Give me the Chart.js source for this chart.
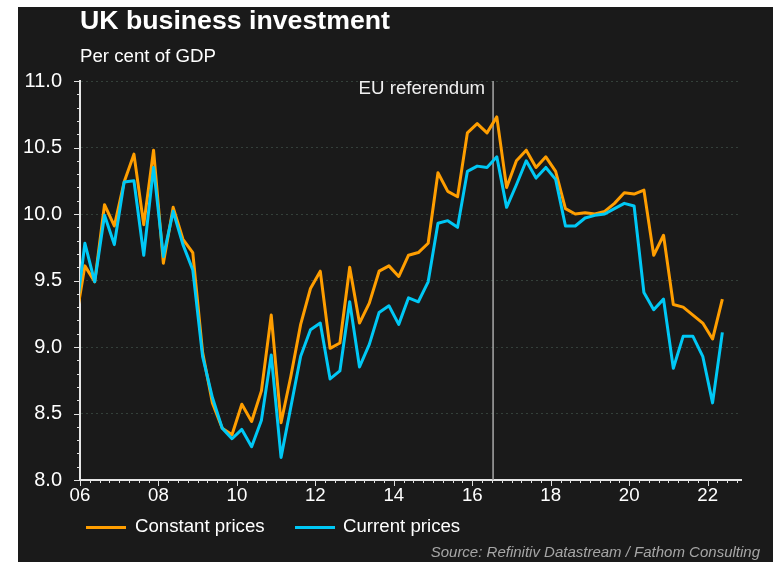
<!DOCTYPE html>
<html>
<head>
<meta charset="utf-8">
<script src="https://cdn.jsdelivr.net/npm/chart.js@4.4.1/dist/chart.umd.min.js"></script>
<style>
  body { margin: 0; background: #fff; width: 784px; height: 562px; overflow: hidden; position: relative;
         font-family: "Liberation Sans", Arial, sans-serif; }
  #panel { position: absolute; left: 18px; top: 7px; width: 755px; height: 555px; background: #1a1a1a; }
  #chart { position: absolute; left: 0; top: 0; }
  .txt { position: absolute; color: #fff; white-space: nowrap; }
  #title { left: 80px; top: 7px; font-size: 26.7px; line-height: 26.7px; font-weight: bold; }
  #subtitle { left: 80px; top: 47px; font-size: 18.67px; line-height: 18.67px; }
  .leg { top: 517px; font-size: 18.67px; line-height: 18.67px; }
  .swatch { position: absolute; top: 526px; width: 40px; height: 3px; }
  #source { right: 24px; top: 544px; font-size: 15px; line-height: 15px; font-style: italic; color: #a6a6a6; }
</style>
</head>
<body>
<div id="panel"></div>
<canvas id="chart" width="784" height="562"></canvas>
<div class="txt" id="title">UK business investment</div>
<div class="txt" id="subtitle">Per cent of GDP</div>
<div class="swatch" style="left:86px;background:#ff9e00"></div>
<div class="txt leg" style="left:135px">Constant prices</div>
<div class="swatch" style="left:295px;background:#00c8f5"></div>
<div class="txt leg" style="left:343px">Current prices</div>
<div class="txt" id="source">Source: Refinitiv Datastream / Fathom Consulting</div>

<script>
// Quarterly observations (first one sits just left of the axis and gets clipped)
const quarters = [
  "2005Q4",
  "2006Q1","2006Q2","2006Q3","2006Q4","2007Q1","2007Q2","2007Q3","2007Q4",
  "2008Q1","2008Q2","2008Q3","2008Q4","2009Q1","2009Q2","2009Q3","2009Q4",
  "2010Q1","2010Q2","2010Q3","2010Q4","2011Q1","2011Q2","2011Q3","2011Q4",
  "2012Q1","2012Q2","2012Q3","2012Q4","2013Q1","2013Q2","2013Q3","2013Q4",
  "2014Q1","2014Q2","2014Q3","2014Q4","2015Q1","2015Q2","2015Q3","2015Q4",
  "2016Q1","2016Q2","2016Q3","2016Q4","2017Q1","2017Q2","2017Q3","2017Q4",
  "2018Q1","2018Q2","2018Q3","2018Q4","2019Q1","2019Q2","2019Q3","2019Q4",
  "2020Q1","2020Q2","2020Q3","2020Q4","2021Q1","2021Q2","2021Q3","2021Q4",
  "2022Q1","2022Q2"
];

const constantPrices = [
  9.17,
  9.61, 9.49, 10.07, 9.91, 10.24, 10.45, 9.92, 10.48,
  9.63, 10.05, 9.81, 9.71, 8.96, 8.58, 8.39, 8.34,
  8.57, 8.44, 8.67, 9.24, 8.43, 8.78, 9.17, 9.44,
  9.57, 8.99, 9.03, 9.60, 9.18, 9.33, 9.57, 9.61,
  9.53, 9.69, 9.71, 9.78, 10.31, 10.17, 10.13, 10.61,
  10.68, 10.61, 10.73, 10.20, 10.40, 10.48, 10.35, 10.43,
  10.32, 10.04, 10.00, 10.01, 10.00, 10.02, 10.08, 10.16,
  10.15, 10.18, 9.69, 9.84, 9.32, 9.30, 9.24, 9.18,
  9.06, 9.36
];

const currentPrices = [
  9.19,
  9.78, 9.49, 9.99, 9.77, 10.24, 10.25, 9.69, 10.35,
  9.68, 10.02, 9.77, 9.58, 8.93, 8.62, 8.39, 8.31,
  8.38, 8.25, 8.45, 8.94, 8.17, 8.55, 8.93, 9.13,
  9.18, 8.76, 8.82, 9.34, 8.85, 9.02, 9.26, 9.31,
  9.17, 9.37, 9.34, 9.49, 9.93, 9.95, 9.90, 10.32,
  10.36, 10.35, 10.43, 10.05, 10.22, 10.40, 10.27, 10.35,
  10.26, 9.91, 9.91, 9.97, 9.99, 10.00, 10.04, 10.08,
  10.06, 9.41, 9.28, 9.36, 8.84, 9.08, 9.08, 8.93,
  8.58, 9.11
];

const yTicks = [8.0, 8.5, 9.0, 9.5, 10.0, 10.5, 11.0];
const xLabelYears = [2006, 2008, 2010, 2012, 2014, 2016, 2018, 2020, 2022];
const referendumDate = 2016.53;

const FONT = '"Liberation Sans", Arial, sans-serif';

// quarter label -> decimal year (mid-quarter)
function quarterToYear(q) {
  const yr = parseInt(q.slice(0, 4));
  const qn = parseInt(q.slice(5));
  return yr + (qn - 0.5) / 4;
}

function toPoints(values) {
  return values.map(function(v, i) {
    return {x: quarterToYear(quarters[i]), y: v};
  });
}

const decor = {
  id: 'decor',
  beforeDatasetsDraw(chart) {
    const {ctx, chartArea: a, scales: {x}} = chart;
    const rx = x.getPixelForValue(referendumDate);
    ctx.save();
    ctx.strokeStyle = '#a8a8a8';
    ctx.lineWidth = 1.5;
    ctx.beginPath();
    ctx.moveTo(rx, a.top);
    ctx.lineTo(rx, a.bottom);
    ctx.stroke();
    ctx.fillStyle = '#f0f0f0';
    ctx.font = '18.67px ' + FONT;
    ctx.textAlign = 'right';
    ctx.textBaseline = 'middle';
    ctx.fillText('EU referendum', rx - 8, a.top + 8);
    ctx.restore();
  },
  afterDraw(chart) {
    const {ctx, chartArea: a, scales: {x, y}} = chart;
    ctx.save();
    ctx.strokeStyle = '#e0e0e0';
    ctx.lineWidth = 1;
    ctx.beginPath();
    // quarterly ticks on the time axis
    for (let i = 0; i * 0.25 <= x.max - 2006; i++) {
      const px = Math.round(x.getPixelForValue(2006 + i * 0.25)) + 0.5;
      let len = 3;
      if (i % 8 === 0) len = 6;
      ctx.moveTo(px, a.bottom);
      ctx.lineTo(px, a.bottom + len);
    }
    // 0.1 ticks on the value axis
    for (let i = 0; i <= 30; i++) {
      const py = Math.round(y.getPixelForValue(8 + i / 10)) + 0.5;
      const len = (i % 5 === 0) ? 6 : 3;
      ctx.moveTo(a.left, py);
      ctx.lineTo(a.left - len, py);
    }
    ctx.stroke();
    ctx.restore();
  }
};

new Chart(document.getElementById('chart'), {
  type: 'line',
  data: {
    datasets: [
      {
        label: 'Constant prices',
        data: toPoints(constantPrices),
        borderColor: '#ff9e00',
        borderWidth: 3,
        borderJoinStyle: 'round',
        pointRadius: 0,
        tension: 0,
        order: 1
      },
      {
        label: 'Current prices',
        data: toPoints(currentPrices),
        borderColor: '#00c8f5',
        borderWidth: 3,
        borderJoinStyle: 'round',
        pointRadius: 0,
        tension: 0,
        order: 0
      }
    ]
  },
  options: {
    responsive: false,
    animation: false,
    devicePixelRatio: 1,
    layout: { padding: { left: 0, top: 81, right: 43, bottom: 0 } },
    plugins: { legend: { display: false }, tooltip: { enabled: false } },
    scales: {
      x: {
        type: 'linear',
        min: 2006,
        max: 2022.85,
        afterFit: function(s) { s.height = 82; },
        afterBuildTicks: function(s) {
          s.ticks = xLabelYears.map(function(v) { return {value: v}; });
        },
        ticks: {
          color: '#fff',
          font: { family: FONT, size: 18.67 },
          padding: 5,
          maxRotation: 0,
          autoSkip: false,
          callback: function(v) { return String(v % 100).padStart(2, '0'); }
        },
        grid: { display: false, drawTicks: false },
        border: { display: true, color: '#e6e6e6', width: 2 }
      },
      y: {
        min: 8,
        max: 11,
        afterFit: function(s) { s.width = 80; },
        afterBuildTicks: function(s) {
          s.ticks = yTicks.map(function(v) { return {value: v}; });
        },
        ticks: {
          color: '#fff',
          font: { family: FONT, size: 20 },
          padding: 18,
          callback: function(v) { return v.toFixed(1); }
        },
        grid: { color: '#34403a', lineWidth: 1, drawTicks: false },
        border: { display: true, color: '#e6e6e6', width: 2, dash: [2, 3] }
      }
    }
  },
  plugins: [decor]
});
</script>
</body>
</html>
